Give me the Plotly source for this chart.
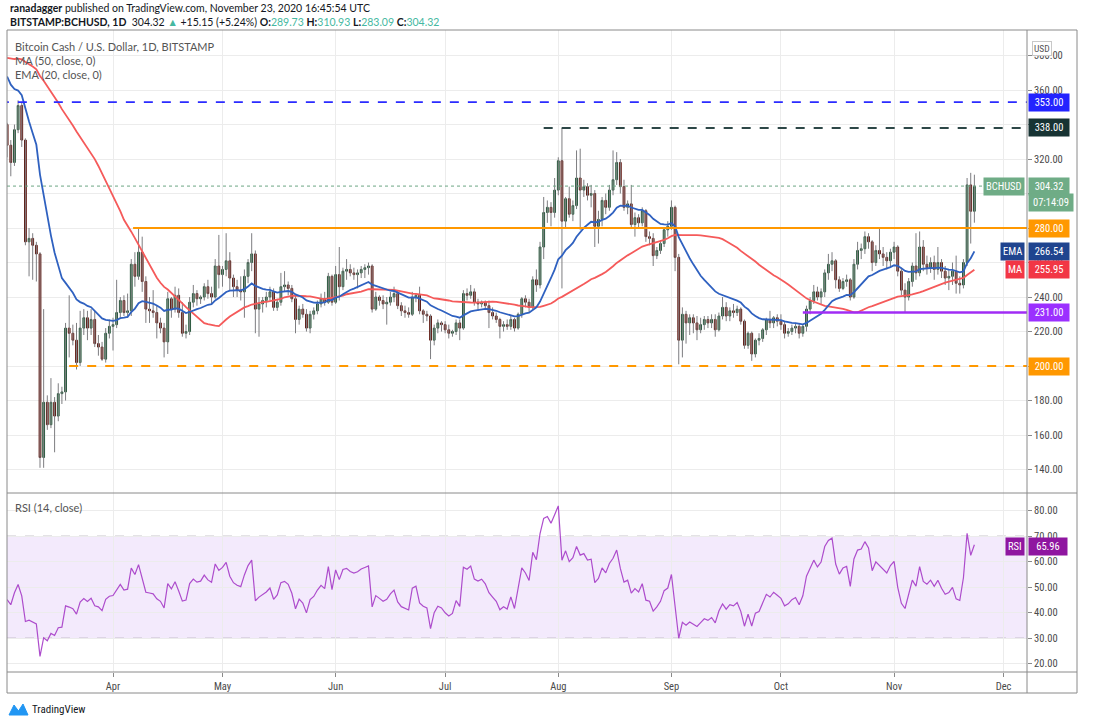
import numpy as np
import pandas as pd
import plotly.graph_objects as go

W, H = 1094, 727

# ---------------- data ----------------
# closes before the first visible candle, estimated so the MA/EMA/RSI lines match (Jan 13 - Mar 2)
warmup_closes = [266, 338, 352, 340, 350, 352, 335, 340, 345, 340, 315, 322, 318, 342, 360, 368, 370, 380, 378,
                 380, 383, 386, 376, 380, 385, 410, 415, 440, 425, 445, 470, 455, 480, 425, 410, 440, 460, 425, 420,
                 425, 420, 435, 365, 335, 315, 330, 330, 328,
                 336, 332]

start_date = "2020-03-03"

opens = [
    340, 328, 318, 337, 351, 331, 272, 274, 270, 265, 147, 179, 166, 179, 171, 184, 185, 222, 219, 215, 202, 222, 228, 222, 227, 213, 211, 204, 219,
    223, 224, 231, 238, 231, 232, 259, 252, 266, 249, 233, 232, 231, 225, 222, 214, 239, 233, 241, 231, 219, 220, 237, 242, 239, 240, 246, 242, 240, 258,
    253, 256, 261, 251, 246, 244, 243, 252, 260, 265, 233, 236, 238, 240, 243, 234, 237, 246, 247, 245, 239, 227, 233, 230, 222, 230, 232, 236, 239, 237, 252,
    237, 253, 246, 255, 256, 254, 253, 254, 256, 257, 258, 233, 240, 238, 236, 237, 240, 242, 235, 232, 231, 230, 240, 241, 232, 230, 229, 215, 222, 225,
    224, 221, 219, 220, 225, 222, 242, 241, 243, 237, 236, 237, 235, 231, 229, 227, 223, 224, 223, 227, 222, 230, 239, 237, 234, 250, 247, 269, 289, 292, 289,
    302, 319, 284, 297, 288, 293, 309, 302, 304, 299, 300, 281, 285, 296, 292, 302, 308, 318, 304, 292, 294, 282, 286, 283, 290, 275, 274, 264, 267, 271, 279,
    281, 292, 263, 215, 230, 225, 228, 225, 221, 224, 227, 225, 227, 221, 229, 234, 229, 232, 231, 233, 226, 212, 219, 207, 215, 216, 221, 227, 225, 228,
    226, 224, 219, 220, 222, 223, 219, 223, 233, 238, 243, 240, 243, 254, 259, 261, 250, 245, 249, 250, 240, 259, 267, 268, 275, 272, 260, 267, 265, 263, 261,
    266, 269, 255, 244, 240, 249, 258, 254, 269, 259, 257, 260, 256, 260, 255, 251, 252, 255, 248, 247, 260, 305, 289.73,
]
highs = [
    341, 331, 340, 354, 353, 332, 280, 277, 272, 266, 233, 183, 193, 182, 190, 188, 225, 241, 224, 225, 232, 233, 232, 233, 232, 218, 214, 222, 227,
    228, 250, 240, 241, 242, 262, 266, 280, 275, 252, 240, 244, 235, 228, 225, 243, 240, 246, 245, 237, 224, 240, 247, 244, 241, 248, 250, 246, 262, 276,
    258, 277, 266, 253, 250, 252, 256, 262, 277, 267, 240, 240, 243, 246, 245, 239, 254, 255, 249, 247, 241, 235, 236, 233, 232, 234, 238, 242, 243, 254, 253,
    258, 269, 257, 262, 259, 257, 256, 258, 259, 260, 259, 243, 241, 241, 240, 243, 246, 244, 237, 235, 234, 243, 242, 246, 233, 232, 230, 224, 227, 226,
    226, 224, 221, 227, 227, 244, 245, 247, 245, 239, 238, 238, 238, 234, 231, 228, 226, 227, 229, 228, 231, 240, 241, 239, 252, 256, 272, 298, 296, 295, 309,
    321, 338, 298, 304, 296, 325, 326, 308, 306, 305, 302, 290, 298, 300, 305, 325, 324, 320, 308, 296, 305, 289, 288, 292, 291, 278, 277, 269, 273, 280, 284,
    296, 293, 265, 234, 232, 230, 230, 229, 228, 229, 229, 230, 230, 231, 240, 237, 234, 236, 235, 234, 227, 220, 220, 216, 219, 222, 228, 232, 229, 230,
    230, 226, 222, 224, 225, 225, 224, 235, 240, 247, 246, 245, 256, 265, 266, 262, 252, 251, 253, 251, 262, 272, 271, 278, 277, 273, 270, 280, 269, 266, 268,
    272, 270, 257, 248, 251, 260, 277, 278, 273, 264, 263, 264, 269, 262, 258, 256, 260, 264, 252, 262, 309, 312, 310.93,
]
lows = [
    321, 310, 316, 335, 327, 270, 252, 250, 249, 141, 141, 163, 164, 150, 168, 178, 180, 205, 212, 198, 200, 218, 215, 218, 211, 206, 203, 202, 216,
    209, 222, 228, 229, 228, 229, 246, 250, 243, 225, 225, 228, 216, 219, 205, 207, 228, 231, 228, 217, 216, 218, 234, 235, 236, 238, 239, 236, 239, 245,
    246, 252, 244, 240, 240, 238, 228, 248, 255, 219, 217, 231, 234, 238, 232, 232, 235, 243, 241, 237, 219, 224, 228, 220, 219, 227, 230, 234, 235, 236, 235,
    236, 238, 244, 250, 252, 250, 245, 251, 251, 253, 231, 232, 235, 233, 224, 235, 237, 233, 229, 228, 228, 229, 237, 230, 225, 226, 204, 212, 219, 220,
    219, 216, 217, 218, 215, 221, 238, 239, 235, 232, 234, 233, 222, 227, 225, 216, 220, 221, 221, 220, 221, 228, 234, 231, 233, 243, 245, 262, 283, 281, 286,
    299, 245, 280, 286, 284, 291, 279, 298, 296, 292, 269, 271, 281, 288, 290, 299, 305, 300, 290, 288, 280, 275, 280, 281, 272, 270, 258, 262, 265, 269, 275,
    279, 255, 201, 205, 213, 218, 219, 215, 219, 221, 222, 222, 217, 220, 227, 226, 226, 228, 229, 224, 210, 210, 203, 205, 212, 214, 218, 222, 222, 223,
    221, 216, 217, 218, 219, 216, 217, 220, 230, 236, 238, 236, 240, 250, 255, 245, 243, 244, 246, 238, 239, 256, 262, 265, 268, 255, 258, 262, 258, 256, 257,
    262, 252, 241, 231, 238, 246, 250, 252, 255, 253, 254, 250, 253, 251, 247, 244, 247, 242, 242, 245, 258, 271, 283.09,
]
closes = [
    328, 318, 337, 351, 331, 272, 274, 270, 265, 147, 179, 166, 179, 171, 184, 185, 222, 219, 215, 202, 222, 228, 222, 227, 213, 211, 204, 219, 223,
    224, 231, 238, 231, 232, 259, 252, 266, 249, 233, 232, 231, 225, 222, 214, 239, 233, 241, 231, 219, 220, 237, 242, 239, 240, 246, 242, 240, 258, 253,
    256, 261, 251, 246, 244, 243, 252, 260, 265, 233, 236, 238, 240, 243, 234, 237, 246, 247, 245, 239, 227, 233, 230, 222, 230, 232, 236, 239, 237, 252, 237,
    253, 246, 255, 256, 254, 253, 254, 256, 257, 258, 233, 240, 238, 236, 237, 240, 242, 235, 232, 231, 230, 240, 241, 232, 230, 229, 215, 222, 225, 224,
    221, 219, 220, 225, 222, 242, 241, 243, 237, 236, 237, 235, 231, 229, 227, 223, 224, 223, 227, 222, 230, 239, 237, 234, 250, 247, 269, 289, 292, 289, 302,
    319, 284, 297, 288, 293, 309, 302, 304, 299, 300, 281, 285, 296, 292, 302, 308, 318, 304, 292, 294, 282, 286, 283, 290, 275, 274, 264, 267, 271, 279, 281,
    292, 263, 215, 230, 225, 228, 225, 221, 224, 227, 225, 227, 221, 229, 234, 229, 232, 231, 233, 226, 212, 219, 207, 215, 216, 221, 227, 225, 228, 226,
    224, 219, 220, 222, 223, 219, 223, 233, 238, 243, 240, 243, 254, 259, 261, 250, 245, 249, 250, 240, 259, 267, 268, 275, 272, 260, 267, 265, 263, 261, 266,
    269, 255, 244, 240, 249, 258, 254, 269, 259, 257, 260, 256, 260, 255, 251, 252, 255, 248, 247, 260, 305, 289.73, 304.32,
]

# horizontal levels drawn by the author
level_values = [353, 338, 280, 231, 200]
level_starts = ["2020-03-01", "2020-07-28", "2020-04-06 12:00", "2020-10-07", "2020-03-20"]
level_colors = ["#2b2bff", "#2d4747", "#ff9800", "#a12cf5", "#ff9800"]
level_label_bg = ["#2323ff", "#173333", "#ff9800", "#9b30ff", "#ff9800"]
level_dash = ["dash", "dash", "solid", "solid", "dash"]
level_width = [1.6, 2, 2, 2.5, 2]

price_ticks = list(range(140, 381, 20))
hidden_price_ticks = [200, 280, 300, 340]      # covered by the coloured price boxes
rsi_ticks = list(range(20, 81, 10))
last_price = 304.32
ema_label_value = 266.54
ma_label_value = 255.95
rsi_label_value = 65.96
countdown = "07:14:09"
x_range = ["2020-03-02 23:00", "2020-12-07 10:00"]
price_range = [126.4, 394.8]
rsi_range = [16.75, 86.94]

# ---------------- derived ----------------
n = len(closes)
assert len(opens) == n and len(highs) == n and len(lows) == n, (len(opens), len(highs), len(lows), n)
dates = pd.date_range(start_date, periods=n, freq="D")

allc = pd.Series(warmup_closes + closes, dtype=float)
k = len(warmup_closes)
ema20 = allc.ewm(span=20, adjust=False).mean().iloc[k:].values
ma50 = allc.rolling(50).mean().iloc[k:].values
delta = allc.diff()
gain = delta.clip(lower=0)
loss = (-delta).clip(lower=0)
ag = gain.ewm(alpha=1 / 14, adjust=False).mean()
al = loss.ewm(alpha=1 / 14, adjust=False).mean()
rsi = (100 - 100 / (1 + ag / al)).iloc[k:].values

o = np.array(opens, float)
c = np.array(closes, float)
body_top = np.maximum(o, c)
body_bot = np.minimum(o, c)

wx, wy = [], []
for d, lo, hi in zip(dates, lows, highs):
    wx += [d, d, None]
    wy += [lo, hi, None]


def px(x):
    return x / W


def py(y):
    return 1 - y / H


FONT = "Liberation Sans Narrow, Roboto Condensed, Lato, Noto Sans, sans-serif"
HFONT = "Lato, Noto Sans, sans-serif"

fig = go.Figure()

fig.add_trace(go.Scatter(x=wx, y=wy, mode="lines", line=dict(color="#7d7d80", width=1),
                         hoverinfo="skip", xaxis="x", yaxis="y"))
fig.add_trace(go.Candlestick(
    x=dates, open=opens, close=closes, high=body_top, low=body_bot,
    increasing=dict(fillcolor="#62a173", line=dict(color="#225437", width=1)),
    decreasing=dict(fillcolor="#c4473c", line=dict(color="#5b1a13", width=1)),
    whiskerwidth=0, xaxis="x", yaxis="y"))
fig.add_trace(go.Scatter(x=dates, y=ma50, mode="lines", line=dict(color="#f55a5a", width=1.8),
                         xaxis="x", yaxis="y"))
fig.add_trace(go.Scatter(x=dates, y=ema20, mode="lines", line=dict(color="#2f61c0", width=1.8),
                         xaxis="x", yaxis="y"))
fig.add_trace(go.Scatter(x=dates, y=rsi, mode="lines", line=dict(color="#ad4ccc", width=1.2),
                         xaxis="x2", yaxis="y2"))

shapes = []
# RSI band
shapes.append(dict(type="rect", xref="x2 domain", yref="y2", x0=0, x1=1, y0=30, y1=70,
                   fillcolor="rgba(150,60,230,0.11)", line=dict(width=0), layer="below"))
for v in (30, 70):
    shapes.append(dict(type="line", xref="x2 domain", yref="y2", x0=0, x1=1, y0=v, y1=v,
                       line=dict(color="#a9a0ad", width=1, dash="dash"), layer="below"))
# last price dotted line
shapes.append(dict(type="line", xref="x", yref="y", x0=x_range[0], x1=x_range[1], y0=last_price, y1=last_price,
                   line=dict(color="#6ba583", width=1, dash="dot")))
# horizontal levels
for v, s, col, dsh, wd in zip(level_values, level_starts, level_colors, level_dash, level_width):
    shapes.append(dict(type="line", xref="x", yref="y", x0=s, x1=x_range[1], y0=v, y1=v,
                       line=dict(color=col, width=wd, dash=dsh)))
# frame
FR = "#8a8a8a"
shapes.append(dict(type="rect", xref="paper", yref="paper", x0=px(7), x1=px(1077), y0=py(693), y1=py(30),
                   line=dict(color=FR, width=1)))
for yy in (493, 672):
    shapes.append(dict(type="line", xref="paper", yref="paper", x0=px(7), x1=px(1077), y0=py(yy), y1=py(yy),
                       line=dict(color=FR, width=1)))
shapes.append(dict(type="line", xref="paper", yref="paper", x0=px(1027), x1=px(1027), y0=py(693), y1=py(30),
                   line=dict(color=FR, width=1)))
# TradingView logo mark
logo = "M {} {} L {} {} L {} {} L {} {} L {} {} Z".format(
    px(9), py(715), px(14), py(705), px(18.5), py(711), px(23), py(704), px(28), py(715))
shapes.append(dict(type="path", xref="paper", yref="paper", path=logo, fillcolor="#2196f3",
                   line=dict(color="#2196f3", width=1)))

ann = []


def box(text, y, bg, yref="y", x=1028, xanchor="left", fg="white", yshift=0, width=None):
    d = dict(text=text, x=px(x), xref="paper", y=y, yref=yref, xanchor=xanchor, yanchor="middle",
             showarrow=False, bgcolor=bg, font=dict(color=fg, size=10.5, family=FONT),
             borderpad=2, yshift=yshift)
    if width:
        d["width"] = width
    ann.append(d)


for v, bg in zip(level_values, level_label_bg):
    box(f"{v:.2f}", v, bg, width=36)
box(f"{last_price:.2f}", last_price, "#6fac86", width=36)
box("BCHUSD", last_price, "#6fac86", x=1025, xanchor="right")
box(countdown, py(202), "#6fac86", yref="paper", width=40)
box(f"{ema_label_value:.2f}", ema_label_value, "#1f448f", width=36)
box("EMA", ema_label_value, "#1f448f", x=1025, xanchor="right")
box(f"{ma_label_value:.2f}", ma_label_value, "#f23645", width=36)
box("MA", ma_label_value, "#f23645", x=1025, xanchor="right")
box(f"{rsi_label_value:.2f}", rsi_label_value, "#8f16a0", yref="y2", width=34)
box("RSI", rsi_label_value, "#8f16a0", yref="y2", x=1025, xanchor="right")
ann.append(dict(text="USD", x=px(1052), y=py(41), xref="paper", yref="paper", showarrow=False,
                font=dict(size=9.5, color="#555", family=FONT), bgcolor="white", bordercolor="#c8c8c8",
                borderwidth=1, borderpad=1))

G = "#45b8a1"
DK = "#131722"
ann.append(dict(text="<b>ranadagger</b> published on TradingView.com, November 23, 2020 16:45:54 UTC",
                x=px(8), y=py(8), xref="paper", yref="paper", xanchor="left", yanchor="middle", showarrow=False,
                font=dict(size=10.5, color=DK, family=HFONT)))
ann.append(dict(text=(f"<b>BITSTAMP:BCHUSD, 1D</b>  304.32 <span style='color:{G}'>▲</span> +15.15 (+5.24%) "
                      f"<b>O:</b><span style='color:{G}'>289.73</span> <b>H:</b><span style='color:{G}'>310.93</span> "
                      f"<b>L:</b><span style='color:{G}'>283.09</span> <b>C:</b><span style='color:{G}'>304.32</span>"),
                x=px(8), y=py(22), xref="paper", yref="paper", xanchor="left", yanchor="middle", showarrow=False,
                font=dict(size=10.5, color=DK, family=HFONT)))
for txt, yy in [("Bitcoin Cash / U.S. Dollar, 1D, BITSTAMP", 46), ("MA (50, close, 0)", 61),
                ("EMA (20, close, 0)", 75), ("RSI (14, close)", 507)]:
    ann.append(dict(text=txt, x=px(13), y=py(yy), xref="paper", yref="paper", xanchor="left", yanchor="middle",
                    showarrow=False, font=dict(size=11, color="#555", family=HFONT)))
ann.append(dict(text="TradingView", x=px(30), y=py(709), xref="paper", yref="paper", xanchor="left",
                yanchor="middle", showarrow=False, font=dict(size=11, color=DK, family=FONT)))

GRID = "#ececec"
AX = dict(family=FONT, size=10.5, color="#4a4a4a")
fig.update_layout(
    width=W, height=H, margin=dict(l=0, r=0, t=0, b=0),
    paper_bgcolor="white", plot_bgcolor="white", showlegend=False,
    shapes=shapes, annotations=ann,
    xaxis=dict(domain=[px(7), px(1027)], range=x_range, type="date", anchor="y",
               rangeslider=dict(visible=False), showticklabels=False, showgrid=True, gridcolor=GRID,
               tick0="2020-01-01", dtick="M1", zeroline=False, showline=False),
    xaxis2=dict(domain=[px(7), px(1027)], range=x_range, type="date", anchor="y2", matches="x",
                showgrid=True, gridcolor=GRID, tick0="2020-01-01", dtick="M1", tickformat="%b",
                ticks="outside", ticklen=4, tickcolor="#8a8a8a", tickfont=AX, zeroline=False, showline=False),
    yaxis=dict(domain=[py(493), py(30)], range=price_range, side="right", anchor="x",
               tickvals=price_ticks,
               ticktext=["" if v in hidden_price_ticks else f"{v:.2f}" for v in price_ticks],
               ticks="outside", ticklen=4,
               tickcolor="#8a8a8a", tickfont=AX, showgrid=True, gridcolor=GRID, zeroline=False, showline=False),
    yaxis2=dict(domain=[py(672), py(493)], range=rsi_range, side="right", anchor="x2",
                tickvals=rsi_ticks, ticktext=[f"{v:.2f}" for v in rsi_ticks], ticks="outside", ticklen=4,
                tickcolor="#8a8a8a", tickfont=AX, showgrid=True, gridcolor=GRID, zeroline=False, showline=False),
)

fig.write_html("out.html", config={"displayModeBar": False},
               post_script="document.body.style.margin='0';document.body.style.padding='0';")
